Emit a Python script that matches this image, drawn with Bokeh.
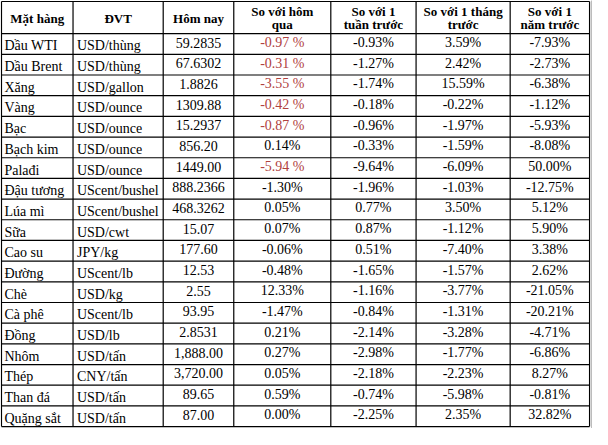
from bokeh.plotting import figure
from bokeh.models import ColumnDataSource, Range1d
from bokeh.core.properties import value
from bokeh.embed import file_html
from bokeh.resources import INLINE

headers = [["Mặt hàng"], ["ĐVT"], ["Hôm nay"], ["So với hôm", "qua"],
           ["So với 1", "tuần trước"], ["So với 1 tháng", "trước"], ["So với 1", "năm trước"]]

items = ["Dầu WTI", "Dầu Brent", "Xăng", "Vàng", "Bạc", "Bạch kim", "Palađi", "Đậu tương",
         "Lúa mì", "Sữa", "Cao su", "Đường", "Chè", "Cà phê", "Đồng", "Nhôm", "Thép",
         "Than đá", "Quặng sắt"]
units = ["USD/thùng", "USD/thùng", "USD/gallon", "USD/ounce", "USD/ounce", "USD/ounce",
         "USD/ounce", "UScent/bushel", "UScent/bushel", "USD/cwt", "JPY/kg", "UScent/lb",
         "USD/kg", "UScent/lb", "USD/lb", "USD/tấn", "CNY/tấn", "USD/tấn", "USD/tấn"]
today = ["59.2835", "67.6302", "1.8826", "1309.88", "15.2937", "856.20", "1449.00",
         "888.2366", "468.3262", "15.07", "177.60", "12.53", "2.55", "93.95", "2.8531",
         "1,888.00", "3,720.00", "89.65", "87.00"]
vs_day = ["-0.97 %", "-0.31 %", "-3.55 %", "-0.42 %", "-0.87 %", "0.14%", "-5.94 %",
          "-1.30%", "0.05%", "0.07%", "-0.06%", "-0.48%", "12.33%", "-1.47%", "0.21%",
          "0.27%", "0.05%", "0.59%", "0.00%"]
vs_week = ["-0.93%", "-1.27%", "-1.74%", "-0.18%", "-0.96%", "-0.33%", "-9.64%", "-1.96%",
           "0.77%", "0.87%", "0.51%", "-1.65%", "-1.16%", "-0.84%", "-2.14%", "-2.98%",
           "-2.18%", "-0.74%", "-2.25%"]
vs_month = ["3.59%", "2.42%", "15.59%", "-0.22%", "-1.97%", "-1.59%", "-6.09%", "-1.03%",
            "3.50%", "-1.12%", "-7.40%", "-1.57%", "-3.77%", "-1.31%", "-3.28%", "-1.77%",
            "-2.23%", "-5.98%", "2.35%"]
vs_year = ["-7.93%", "-2.73%", "-6.38%", "-1.12%", "-5.93%", "-8.08%", "50.00%", "-12.75%",
           "5.12%", "5.90%", "3.38%", "2.62%", "-21.05%", "-20.21%", "-4.71%", "-6.86%",
           "8.27%", "-0.81%", "32.82%"]

# layout (reference pixel space)
col_edges = [3, 76, 168, 240, 339, 426, 522, 603]
top, head_bottom, bottom = 4, 37, 440
nrows = len(items)
row_h = (bottom - head_bottom) / nrows
FONT = value("Liberation Serif")
RED = "#b0413e"

p = figure(width=592, height=429, x_range=Range1d(2, 606), y_range=Range1d(443, 3),
           output_backend="svg", toolbar_location=None, x_axis_type=None, y_axis_type=None,
           min_border=0, outline_line_color=None, background_fill_color="white",
           border_fill_color="white")
p.grid.visible = False

# grid lines
hx0, hx1, hy0, hy1 = [], [], [], []
ys = [top, head_bottom] + [head_bottom + row_h * (i + 1) for i in range(nrows)]
for y in ys:
    hx0.append(col_edges[0]); hx1.append(col_edges[-1]); hy0.append(y); hy1.append(y)
for x in col_edges:
    hx0.append(x); hx1.append(x); hy0.append(top); hy1.append(bottom)
p.segment(x0=hx0, y0=hy0, x1=hx1, y1=hy1, line_color="black", line_width=1.2)
# dotted image edge
p.segment(x0=[605], y0=[3], x1=[605], y1=[441], line_color="#777777",
          line_width=1, line_dash="1 1")

# headers
hx, hy, ht = [], [], []
for j, lines in enumerate(headers):
    cx = (col_edges[j] + col_edges[j + 1]) / 2
    if len(lines) == 1:
        hx.append(cx); hy.append((top + head_bottom) / 2 + 1); ht.append(lines[0])
    else:
        hx += [cx, cx]; hy += [top + 10, top + 24]; ht += lines
p.text(x=hx, y=hy, text=ht, text_font=FONT, text_font_style="bold", text_font_size="13px",
       text_align="center", text_baseline="middle", text_color="black")

# body
lx, ly, lt = [], [], []
cxs, cys, cts, ccol = [], [], [], []
for i in range(nrows):
    yc = head_bottom + row_h * (i + 0.5)
    lx += [col_edges[0] + 3, col_edges[1] + 4]
    ly += [yc + 2, yc + 2]
    lt += [items[i], units[i]]
    for j, arr in enumerate([today, vs_day, vs_week, vs_month, vs_year]):
        cx = (col_edges[j + 2] + col_edges[j + 3]) / 2
        cxs.append(cx); cys.append(yc - 1.5); cts.append(arr[i])
        ccol.append(RED if (j == 1 and arr[i].endswith(" %")) else "black")

p.text(x=lx, y=ly, text=lt, text_font=FONT, text_font_size="14px", text_align="left",
       text_baseline="middle", text_color="black")
src = ColumnDataSource(dict(x=cxs, y=cys, t=cts, c=ccol))
p.text(x="x", y="y", text="t", text_color="c", source=src, text_font=FONT,
       text_font_size="14px", text_align="center", text_baseline="middle")

open("out.html", "w").write(file_html(p, INLINE))
